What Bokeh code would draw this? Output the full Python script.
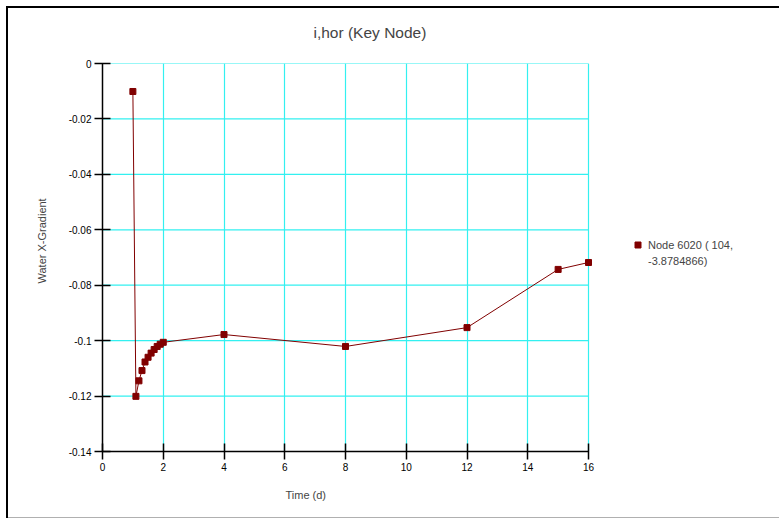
from bokeh.plotting import figure
from bokeh.models import Range1d, FixedTicker, Legend, LegendItem, Title
from bokeh.embed import file_html
from bokeh.resources import INLINE

# ---- data ----
time_d = [1.0, 1.1, 1.2, 1.3, 1.4, 1.5, 1.6, 1.7, 1.8, 1.9, 2.0, 4.0, 8.0, 12.0, 15.0, 16.0]
x_gradient = [-0.0101, -0.1201, -0.1145, -0.1108, -0.1077, -0.1060, -0.1045, -0.1032,
              -0.1021, -0.1013, -0.1006, -0.0978, -0.1021, -0.0953, -0.0743, -0.0718]
x_ticks = [0, 2, 4, 6, 8, 10, 12, 14, 16]
y_ticks = [0.0, -0.02, -0.04, -0.06, -0.08, -0.1, -0.12, -0.14]
y_tick_labels = ["0", "-0.02", "-0.04", "-0.06", "-0.08", "-0.1", "-0.12", "-0.14"]
title_text = "i,hor (Key Node)"
x_label = "Time (d)"
y_label = "Water X-Gradient"
legend_line1 = "Node 6020 ( 104,"
legend_line2 = "-3.8784866)"

FONT = "Liberation Sans"
DARK_RED = "#800000"
CYAN = "#33f0f0"

# plot area spans 0..16 in x; the frame is extended to the right to host the legend
PX_PER_UNIT = 486 / 16
FRAME_W = 779 - 102 - 8
x_min, x_max = x_ticks[0], x_ticks[-1]

p = figure(width=779, height=518,
           x_range=Range1d(x_min, x_min + FRAME_W / PX_PER_UNIT),
           y_range=Range1d(y_ticks[-1], y_ticks[0]),
           output_backend="svg", toolbar_location=None,
           min_border_left=102, min_border_right=8, min_border_top=63, min_border_bottom=67)
# outer frame lines drawn in the element background (canvas border area is transparent)
p.styles = {
    "background-color": "white",
    "background-image": ("linear-gradient(#000,#000), linear-gradient(#000,#000), "
                         "linear-gradient(#b0b0b0,#b0b0b0)"),
    "background-size": "2px 512px, 773px 2px, 773px 1px",
    "background-position": "6px 6px, 6px 6px, 6px 517px",
    "background-repeat": "no-repeat",
}
p.outline_line_color = None
p.background_fill_color = "white"
p.border_fill_alpha = 0

p.xaxis.ticker = FixedTicker(ticks=x_ticks)
p.yaxis.ticker = FixedTicker(ticks=y_ticks)
p.xaxis.bounds = (x_min, x_max)
p.yaxis.major_label_overrides = {t: l for t, l in zip(y_ticks, y_tick_labels)}
p.xaxis.major_label_overrides = {t: str(t) for t in x_ticks}

for ax in (p.xaxis[0], p.yaxis[0]):
    ax.axis_line_color = "black"
    ax.axis_line_width = 1.5
    ax.major_tick_line_color = "black"
    ax.major_tick_line_width = 1.5
    ax.major_tick_in = 8
    ax.major_tick_out = 8
    ax.minor_tick_line_color = None
    ax.major_label_text_font = FONT
    ax.major_label_text_font_size = "10px"
    ax.major_label_text_color = "black"
    ax.major_label_standoff = 3

# vertical grid lines from the x ticker; horizontal grid lines limited to the 0..16 span
p.xgrid.ticker = FixedTicker(ticks=x_ticks)
p.xgrid.grid_line_color = CYAN
p.xgrid.grid_line_width = 1.2
p.ygrid.grid_line_color = None
p.segment(x0=[x_min] * len(y_ticks), x1=[x_max] * len(y_ticks), y0=y_ticks, y1=y_ticks,
          line_color=CYAN, line_width=1.2, level="underlay")

line_r = p.line(time_d, x_gradient, line_color=DARK_RED, line_width=1)
pts_r = p.scatter(time_d, x_gradient, marker="square", size=6,
                  fill_color=DARK_RED, line_color=DARK_RED)
blank_r = p.scatter([], [], marker="square", size=6, fill_alpha=0, line_alpha=0)

legend = Legend(items=[LegendItem(label=legend_line1, renderers=[pts_r]),
                       LegendItem(label=legend_line2, renderers=[blank_r])],
                location=(528, 183), padding=0, margin=0, spacing=1,
                glyph_width=15, glyph_height=15, label_height=15, label_standoff=3,
                border_line_color=None, background_fill_alpha=0,
                label_text_font=FONT, label_text_font_size="11px")
p.add_layout(legend, "center")

p.add_layout(Title(text=title_text, align="left", offset=211, standoff=42,
                   vertical_align="top",
                   text_font=FONT, text_font_size="15.5px", text_font_style="normal"), "above")
p.add_layout(Title(text=x_label, align="left", offset=183, standoff=26,
                   text_font=FONT, text_font_size="11px", text_font_style="normal"), "below")
p.add_layout(Title(text=y_label, align="left", offset=168, standoff=35,
                   text_font=FONT, text_font_size="11px", text_font_style="normal"), "left")

open("out.html", "w").write(file_html(p, INLINE))
